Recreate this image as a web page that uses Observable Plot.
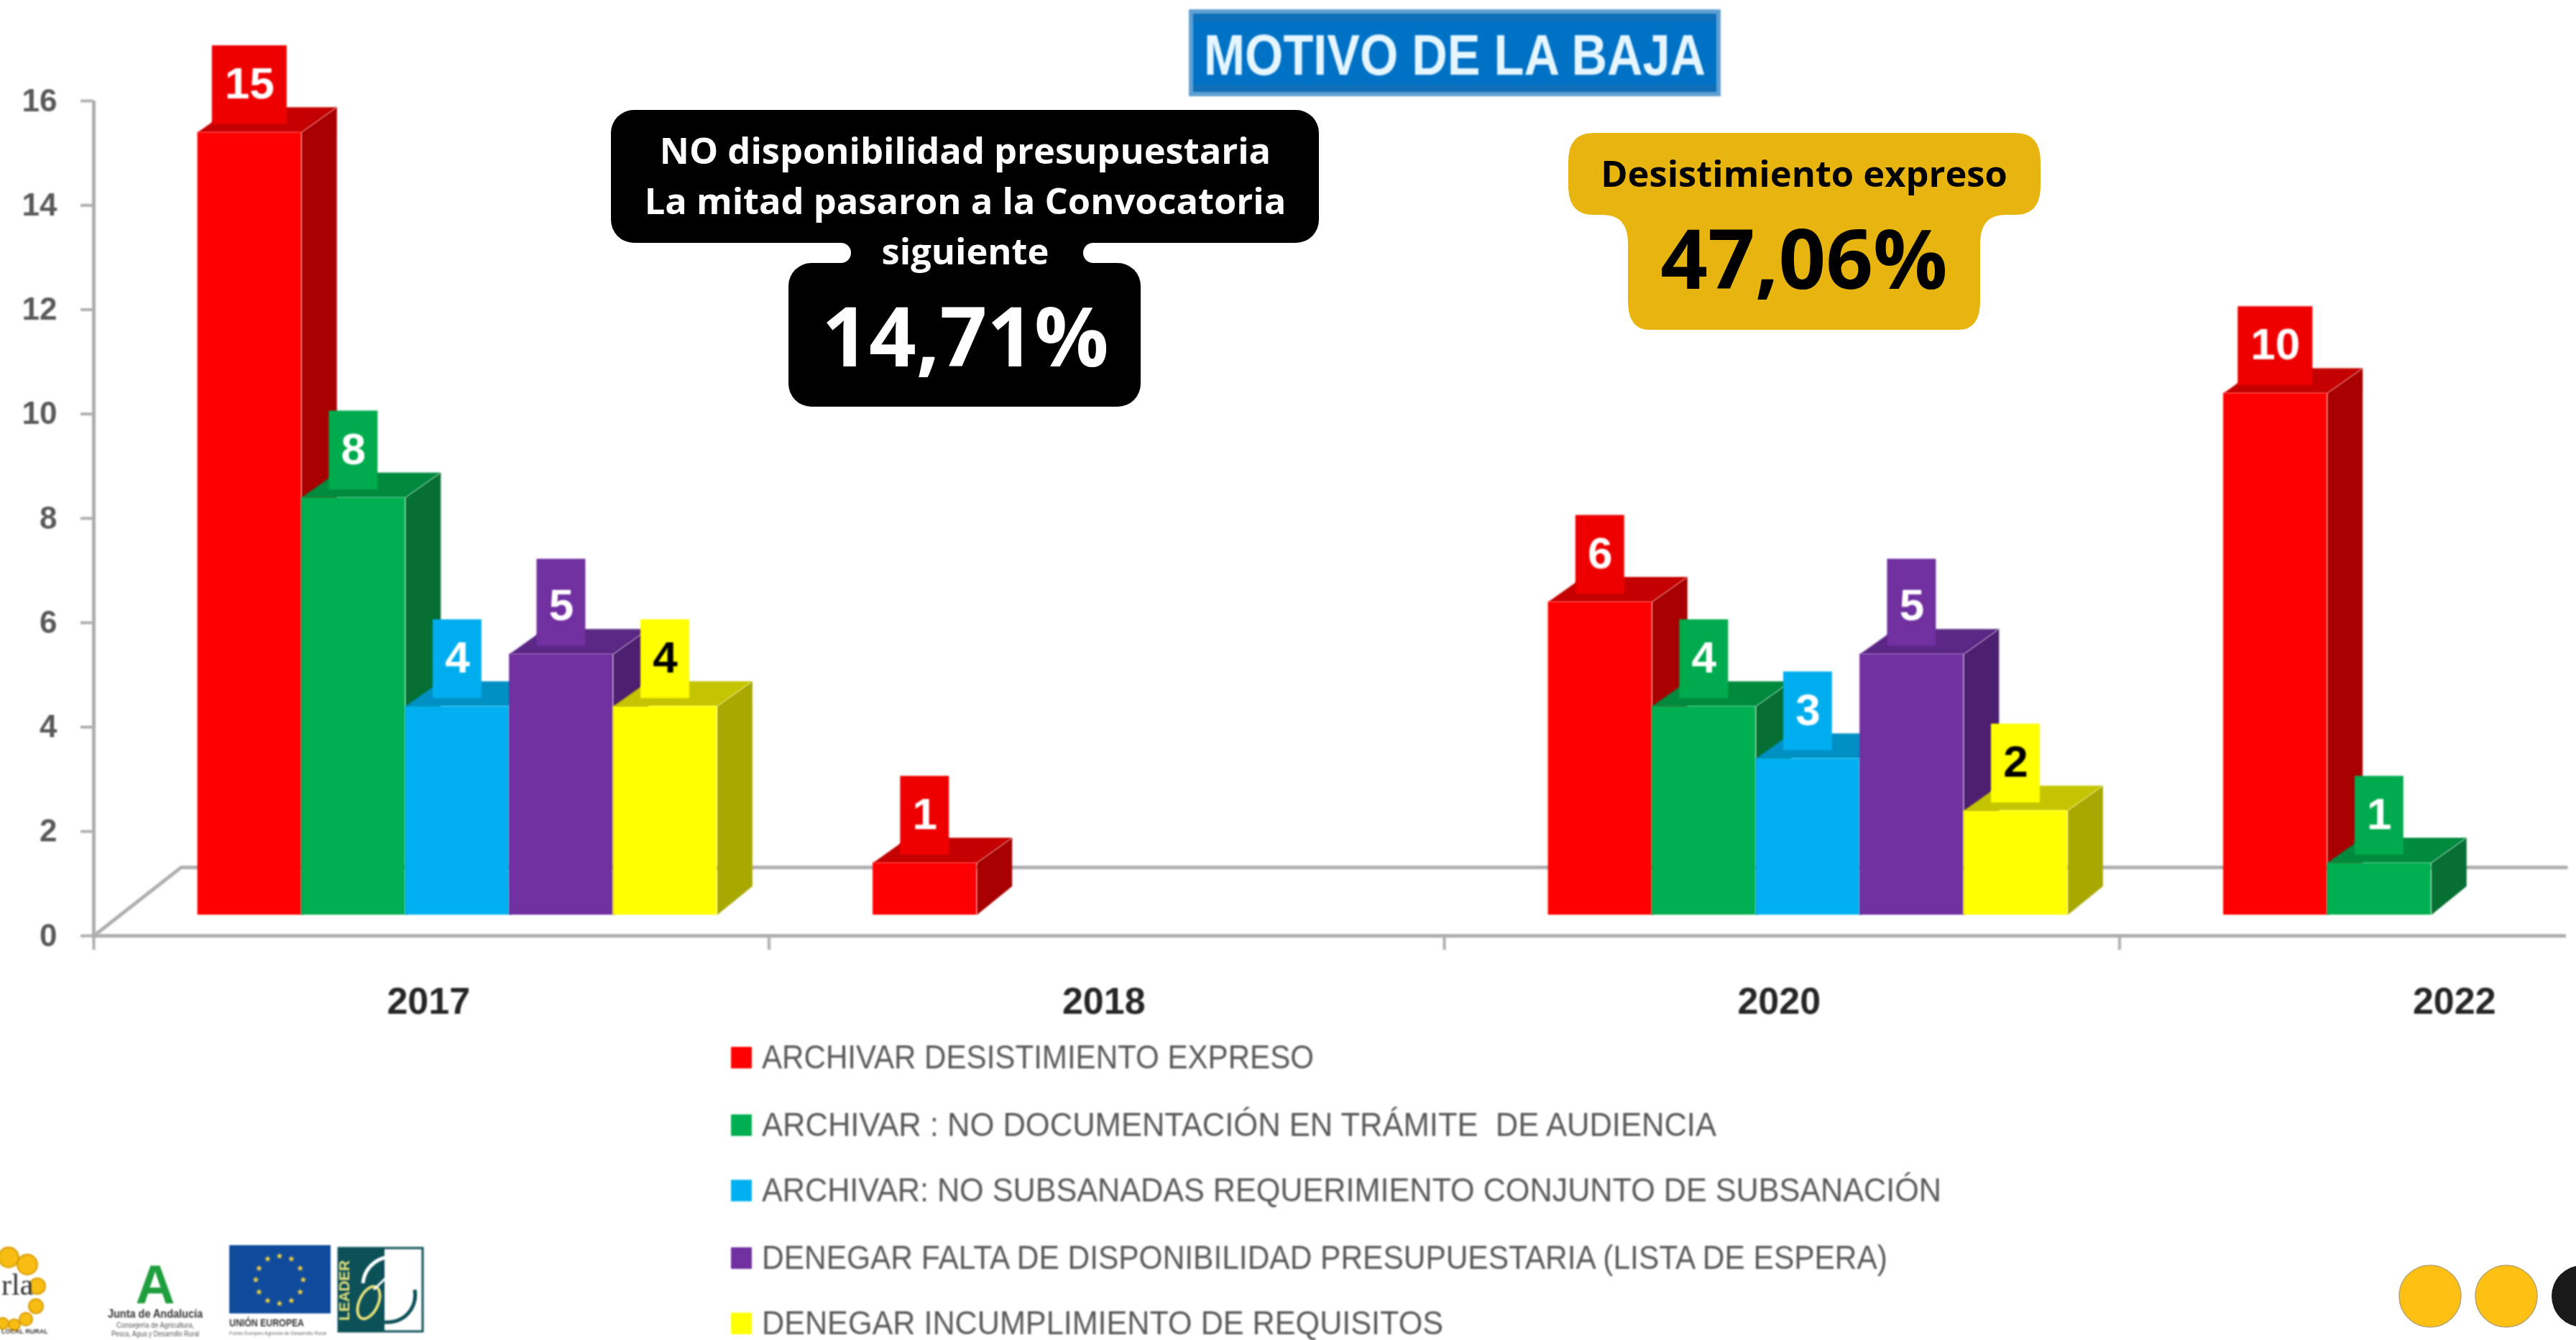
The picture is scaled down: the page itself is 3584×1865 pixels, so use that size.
<!DOCTYPE html>
<html lang="es">
<head>
<meta charset="utf-8">
<title>Motivo de la baja</title>
<style>
html,body{margin:0;padding:0;background:#fff;overflow:hidden}
#chart svg{display:block}
</style>
<script src="https://cdn.jsdelivr.net/npm/d3@7"></script>
<script src="https://cdn.jsdelivr.net/npm/@observablehq/plot@0.6"></script>
</head>
<body>
<div id="chart"></div>
<script>
// ---- data ----
const years = ["2017", "2018", "2020", "2022"];
const seriesNames = [
  "ARCHIVAR DESISTIMIENTO EXPRESO",
  "ARCHIVAR : NO DOCUMENTACIÓN EN TRÁMITE  DE AUDIENCIA",
  "ARCHIVAR: NO SUBSANADAS REQUERIMIENTO CONJUNTO DE SUBSANACIÓN",
  "DENEGAR FALTA DE DISPONIBILIDAD PRESUPUESTARIA (LISTA DE ESPERA)",
  "DENEGAR INCUMPLIMIENTO DE REQUISITOS"
];
const desistimiento = [15, 1, 6, 10];
const noDocumentacion = [8, null, 4, 1];
const noSubsanadas = [4, null, 3, null];
const faltaDisponibilidad = [5, null, 5, null];
const incumplimiento = [4, null, 2, null];
const seriesValues = [desistimiento, noDocumentacion, noSubsanadas, faltaDisponibilidad, incumplimiento];
const yTicks = [0, 2, 4, 6, 8, 10, 12, 14, 16];

// ---- styles ----
const frontColors = ["#ff0000", "#00b050", "#00b0f0", "#7030a0", "#ffff00"];
const boxColors   = ["#ee0000", "#00ab4e", "#00aeef", "#7030a0", "#ffff00"];
const sideColors  = ["#a80000", "#066f32", "#007aa8", "#4c1f70", "#a8a800"];
const topColors   = ["#c40000", "#008a3e", "#0090c4", "#5a2784", "#c4c400"];
const labelColors = ["#ffffff", "#ffffff", "#ffffff", "#ffffff", "#000000"];
const boxHeights  = [1.66, 1.66, 1.66, 1.82, 1.66];
const axisGray = "#aeaeae";

// ---- layout in slot/value units ----
const slotsPerYear = 6.5, depthX = 0.34, depthY = 0.48, lift = -29;

const bars = years.flatMap((year, yi) => seriesValues.flatMap((vals, si) =>
  vals[yi] == null ? [] : [{
    year, si, value: vals[yi],
    x1: yi * slotsPerYear + 1 + si,
    x2: yi * slotsPerYear + 2 + si
  }]));

function barMarks(b) {
  const side = [
    {x: b.x2, y: 0}, {x: b.x2 + depthX, y: depthY + 0.07},
    {x: b.x2 + depthX, y: b.value + depthY}, {x: b.x2, y: b.value}
  ];
  const top = [
    {x: b.x1, y: b.value}, {x: b.x1 + depthX, y: b.value + depthY},
    {x: b.x2 + depthX, y: b.value + depthY}, {x: b.x2, y: b.value}
  ];
  return [
    Plot.line(side, {x: "x", y: "y", fill: sideColors[b.si], stroke: "none", dy: lift}),
    Plot.line(top, {x: "x", y: "y", fill: topColors[b.si], stroke: "none", dy: lift}),
    Plot.rect([b], {x1: "x1", x2: "x2", y1: 0, y2: "value", fill: frontColors[b.si], dy: lift})
  ];
}

function labelMarks(b) {
  const half = b.value >= 10 ? 0.36 : 0.235;
  const c = (b.x1 + b.x2) / 2;
  return [
    Plot.rect([b], {x1: c - half, x2: c + half, y1: d => d.value + 0.15, y2: d => d.value + boxHeights[b.si],
      fill: boxColors[b.si], dy: lift}),
    Plot.text([b], {x: c, y: d => d.value + 0.92, text: d => String(d.value), dy: lift,
      fill: labelColors[b.si], fontSize: 62, fontWeight: 700, fontFamily: "Liberation Sans"})
  ];
}

const floorLine = [{x: 0, y: 0}, {x: 0.84, y: 1.31}, {x: 23.8, y: 1.31}];

// ---- decorations, drawn with real text ----
const legendY = [1470, 1564, 1655, 1749, 1840];
const legendW = [768, 1328, 1641, 1566, 948];

function esc(s) { return s.replace(/&/g, "&amp;").replace(/</g, "&lt;"); }

function blurredDecor() {
  const g = d3.create("svg:g").attr("text-anchor", "start");
  let h = "";
  // title
  h += `<rect x="1654" y="13" width="740" height="121" fill="#5f9fd2"/>`;
  h += `<rect x="1660" y="19" width="728" height="109" fill="#0f6fb8"/>`;
  h += `<rect x="1660" y="30" width="728" height="88" fill="#0072c6"/>`;
  h += `<text x="1675" y="104" font-family="Liberation Sans" font-weight="700" font-size="80" fill="#e6f6ff" textLength="698" lengthAdjust="spacingAndGlyphs">MOTIVO DE LA BAJA</text>`;
  // legend
  seriesNames.forEach((name, i) => {
    h += `<rect x="1017" y="${legendY[i] - 13}" width="29" height="30" fill="${frontColors[i]}"/>`;
    h += `<text x="1060" y="${legendY[i] + 17}" font-family="Liberation Sans" font-size="47" fill="#595959" xml:space="preserve" textLength="${legendW[i]}" lengthAdjust="spacingAndGlyphs">${esc(name)}</text>`;
  });
  // left logo, cropped by the page edge
  const ring = [[12,1750,14],[38,1760,14],[52,1790,11],[50,1818,10],[36,1836,9],[20,1844,8],[4,1842,8]];
  ring.forEach(([x,y,r]) => { h += `<circle cx="${x}" cy="${y}" r="${r}" fill="#f7bd12" stroke="#d99a00" stroke-width="2"/>`; });
  h += `<text x="2" y="1802" font-family="Liberation Serif" font-size="42" fill="#333">rla</text>`;
  h += `<text x="2" y="1856" font-family="Liberation Sans" font-weight="700" font-size="9" fill="#333">LOCAL RURAL</text>`;
  // Junta de Andalucia
  h += `<text x="216" y="1814" text-anchor="middle" font-family="Liberation Sans" font-weight="700" font-size="76" fill="#1f9e3d">A</text>`;
  h += `<text x="150" y="1834" font-family="Liberation Sans" font-weight="700" font-size="16" fill="#333" textLength="132" lengthAdjust="spacingAndGlyphs">Junta de Andalucía</text>`;
  h += `<text x="162" y="1848" font-family="Liberation Sans" font-size="10" fill="#555" textLength="108" lengthAdjust="spacingAndGlyphs">Consejería de Agricultura,</text>`;
  h += `<text x="155" y="1860" font-family="Liberation Sans" font-size="10" fill="#555" textLength="122" lengthAdjust="spacingAndGlyphs">Pesca, Agua y Desarrollo Rural</text>`;
  // EU flag
  h += `<rect x="319" y="1733" width="141" height="95" fill="#0f4a9c"/>`;
  d3.range(12).forEach(i => {
    const a = i * Math.PI / 6;
    h += `<text x="${389 + 33 * Math.sin(a)}" y="${1785 - 33 * Math.cos(a)}" text-anchor="middle" font-family="DejaVu Sans" font-size="12" fill="#ffd83a">★</text>`;
  });
  h += `<text x="319" y="1846" font-family="Liberation Sans" font-weight="700" font-size="15" fill="#333" textLength="104" lengthAdjust="spacingAndGlyphs">UNIÓN EUROPEA</text>`;
  h += `<text x="319" y="1858" font-family="Liberation Sans" font-size="7" fill="#666" textLength="135" lengthAdjust="spacingAndGlyphs">Fondo Europeo Agrícola de Desarrollo Rural</text>`;
  // LEADER
  h += `<rect x="471" y="1737" width="117" height="116" fill="#fff" stroke="#0d5158" stroke-width="3"/>`;
  h += `<rect x="471" y="1737" width="64" height="116" fill="#0d5158"/>`;
  h += `<text transform="translate(486 1838) rotate(-90)" font-family="Liberation Sans" font-weight="700" font-size="21" fill="#e9e27a" textLength="84" lengthAdjust="spacingAndGlyphs">LEADER</text>`;
  h += `<path d="M505 1786 A40 40 0 0 1 552 1750" fill="none" stroke="#fff" stroke-width="5"/>`;
  h += `<path d="M577 1795 A38 38 0 0 1 535 1840" fill="none" stroke="#0d5158" stroke-width="5"/>`;
  h += `<ellipse cx="513" cy="1813" rx="13" ry="24" transform="rotate(25 513 1813)" fill="none" stroke="#e9e27a" stroke-width="4"/>`;
  h += `<path d="M520 1795 L556 1760 M545 1772 L556 1775 M548 1768 L550 1756" fill="none" stroke="#fff" stroke-width="3"/>`;
  g.html(h);
  return g.node();
}

function crispDecor() {
  const g = d3.create("svg:g").attr("class", "crisp");
  let h = "";
  const font = `font-family="Open Sans" font-weight="700" text-anchor="middle"`;
  // black callout
  h += `<rect x="850" y="153" width="985" height="185" rx="32" fill="#000"/>`;
  h += `<rect x="1097" y="366" width="490" height="200" rx="32" fill="#000"/>`;
  h += `<rect x="1165" y="330" width="361" height="44" fill="#000"/>`;
  h += `<rect x="1060" y="338" width="124" height="28" rx="14" fill="#fff"/>`;
  h += `<rect x="1507" y="338" width="124" height="28" rx="14" fill="#fff"/>`;
  h += `<text x="1343" y="228" ${font} font-size="50.6" fill="#fff">NO disponibilidad presupuestaria</text>`;
  h += `<text x="1343" y="298" ${font} font-size="50.6" fill="#fff">La mitad pasaron a la Convocatoria</text>`;
  h += `<text x="1343" y="368" ${font} font-size="50.6" fill="#fff">siguiente</text>`;
  h += `<text x="1343" y="510" ${font} font-size="115" fill="#fff">14,71%</text>`;
  // gold callout
  h += `<path d="M2217 185 H2804 Q2839 185 2839 225 V259 Q2839 299 2804 299 H2790 Q2755 299 2755 339 V419 Q2755 459 2725 459 H2295 Q2265 459 2265 419 V339 Q2265 299 2230 299 H2217 Q2182 299 2182 259 V225 Q2182 185 2217 185 Z" fill="#e8b40f"/>`;
  h += `<text x="2510" y="260" ${font} font-size="50.6" fill="#000">Desistimiento expreso</text>`;
  h += `<text x="2510" y="402" ${font} font-size="115" fill="#000">47,06%</text>`;
  // bottom-right circles
  h += `<circle cx="3381" cy="1804" r="43" fill="#ffc014" stroke="#b9a26a" stroke-width="1.5"/>`;
  h += `<circle cx="3487" cy="1804" r="43" fill="#ffc014" stroke="#b9a26a" stroke-width="1.5"/>`;
  h += `<circle cx="3593" cy="1804" r="43" fill="#1a1a1a"/>`;
  g.html(h);
  return g.node();
}

const chart = Plot.plot({
  width: 3584,
  height: 1865,
  marginTop: 140, marginRight: 0, marginBottom: 563, marginLeft: 130,
  style: {background: "#ffffff", overflow: "hidden"},
  x: {domain: [0, 26], range: [130, 3888]},
  y: {domain: [0, 16], range: [1302, 140]},
  marks: [
    Plot.line(floorLine, {x: "x", y: "y", stroke: axisGray, strokeWidth: 5}),
    Plot.ruleY([0], {x1: 0, x2: 23.8, stroke: axisGray, strokeWidth: 5}),
    Plot.ruleX([0], {y1: 0, y2: 16, stroke: axisGray, strokeWidth: 5}),
    Plot.axisY({ticks: yTicks, tickSize: 18, tickPadding: 33, label: null, fontSize: 44, fontWeight: 700,
      fontFamily: "Liberation Sans", color: "#595959", stroke: axisGray, strokeWidth: 4}),
    Plot.axisX({ticks: [0, 1, 2, 3].map(i => i * slotsPerYear), tickSize: 20, tickFormat: () => "",
      label: null, stroke: axisGray, strokeWidth: 4}),
    Plot.axisX({ticks: years.map((_, i) => (i + 0.5) * slotsPerYear), tickSize: 0, tickPadding: 72, label: null, dx: -4,
      tickFormat: d => years[Math.round(d / slotsPerYear - 0.5)], fontSize: 52, fontWeight: 700,
      fontFamily: "Liberation Sans", color: "#262626"}),
    ...bars.flatMap(barMarks),
    ...bars.flatMap(labelMarks),
    blurredDecor,
    crispDecor
  ]
});

// the reference's chart image is a soft upscale: soften all but the callouts
for (const el of chart.children) {
  if (el.tagName === "g" && !el.classList.contains("crisp")) el.style.filter = "blur(1.1px)";
}
document.getElementById("chart").appendChild(chart);
</script>
</body>
</html>
